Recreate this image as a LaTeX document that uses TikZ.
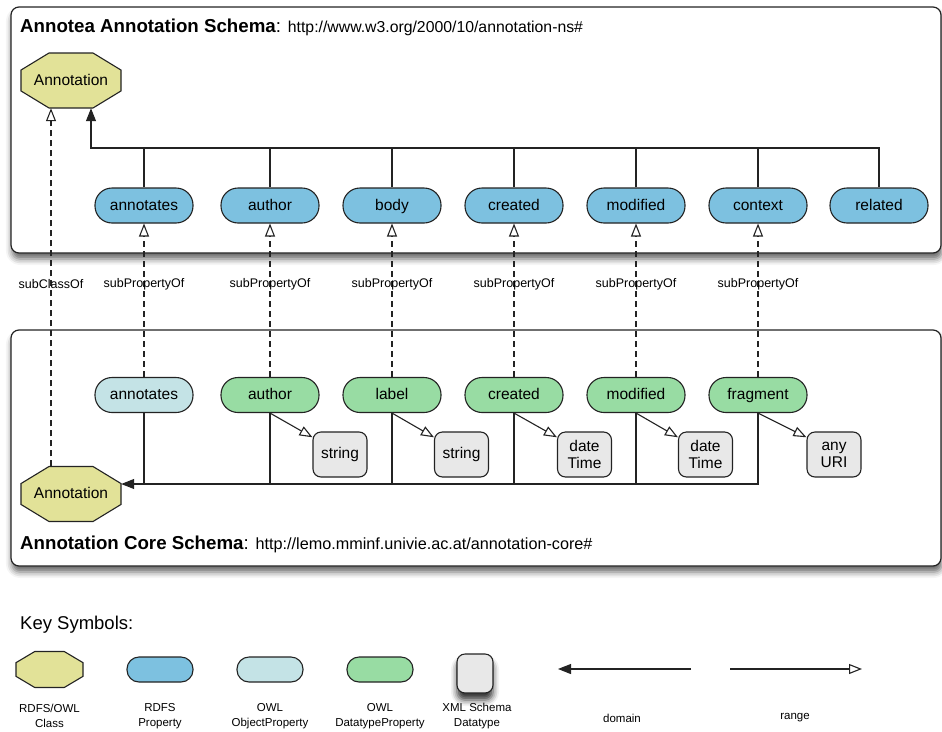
\documentclass[tikz,border=0pt]{standalone}
\usepackage{fontspec}
\setmainfont{Liberation Sans}
\usetikzlibrary{arrows.meta,shadows.blur}

\definecolor{classyellow}{RGB}{226,226,152}
\definecolor{rdfsblue}{RGB}{125,193,224}
\definecolor{objblue}{RGB}{196,227,230}
\definecolor{datagreen}{RGB}{152,220,163}
\definecolor{xsdgray}{RGB}{232,232,232}
\definecolor{edge}{RGB}{35,35,35}

\tikzset{
  schemabox/.style={draw=edge, line width=1.2pt, fill=white, rounded corners=8pt,
    blur shadow={shadow xshift=1pt, shadow yshift=-6pt, shadow blur radius=6pt, shadow opacity=60}},
  classshape/.style={draw=edge, line width=1.1pt, fill=classyellow},
  classtext/.style={inner sep=0pt, text height=12pt, text depth=3pt, font=\fontsize{15.5}{18}\selectfont},
  prop/.style={draw=edge, line width=1.1pt, rounded corners=17pt, minimum width=98pt,
    minimum height=35pt, inner sep=0pt, text height=12pt, text depth=3pt,
    font=\fontsize{15.5}{18}\selectfont},
  rdfsprop/.style={prop, fill=rdfsblue},
  owlobj/.style={prop, fill=objblue},
  owldata/.style={prop, fill=datagreen},
  keyprop/.style={minimum width=66pt, minimum height=25pt, rounded corners=12pt},
  xsdtype/.style={draw=edge, line width=1.1pt, fill=xsdgray, rounded corners=8pt,
    minimum width=54pt, minimum height=45pt, inner sep=0pt, align=center,
    font=\fontsize{15.5}{17}\selectfont},
  domainline/.style={draw=edge, line width=1.1pt, -{Triangle[length=13pt,width=10pt]}},
  rangeline/.style={draw=edge, line width=1.1pt, -{Triangle[open,length=13pt,width=10pt]}},
  subline/.style={rangeline, dash pattern=on 6pt off 4pt},
  rellabel/.style={font=\fontsize{12.5}{14}\selectfont, inner sep=0pt},
  keylabel/.style={font=\fontsize{11.5}{15}\selectfont, align=center, inner sep=0pt},
}

% octagon for an RDFS/OWL class: name, centre, text, half width, half height
\newcommand\owlclass[5]{%
  \draw[classshape, shift={(#2)}, xscale=#4, yscale=#5]
    (-0.44,-1) -- (0.44,-1) -- (1,-0.38) -- (1,0.38) -- (0.44,1) -- (-0.44,1)
    -- (-1,0.38) -- (-1,-0.38) -- cycle;
  \node[classtext, minimum width=2*#4pt, minimum height=2*#5pt] (#1) at (#2) {#3};}

\begin{document}
\begin{tikzpicture}[x=1pt, y=-1pt]
  \useasboundingbox (0,0) rectangle (942,731);

  % the two schemas
  \draw[schemabox] (11,7) rectangle (941,253);
  \draw[schemabox] (11,330) rectangle (941,566);
  \node[anchor=base west, inner sep=0pt] (toptitle) at (20,32)
    {\fontsize{18.7}{20}\selectfont\bfseries Annotea Annotation Schema\mdseries:
     \fontsize{15.8}{16}\selectfont http://www.w3.org/2000/10/annotation-ns\#};
  \node[anchor=base west, inner sep=0pt] (coretitle) at (20,549)
    {\fontsize{18.7}{20}\selectfont\bfseries Annotation Core Schema\mdseries:
     \fontsize{16.2}{16}\selectfont http://lemo.mminf.univie.ac.at/annotation-core\#};

  % Annotea
  \owlclass{topcls}{71,80.5}{Annotation}{50}{27.5}
  \node[rdfsprop] (tann) at (144,205.5) {annotates};
  \node[rdfsprop] (tauth) at (270,205.5) {author};
  \node[rdfsprop] (tbody) at (392,205.5) {body};
  \node[rdfsprop] (tcreated) at (514,205.5) {created};
  \node[rdfsprop] (tmod) at (636,205.5) {modified};
  \node[rdfsprop] (tctx) at (758,205.5) {context};
  \node[rdfsprop] (trel) at (879,205.5) {related};

  \coordinate (tbus) at (91,148);
  \draw[domainline] (trel.north) |- (tbus) -- (tbus |- topcls.south);
  \foreach \n in {tann,tauth,tbody,tcreated,tmod,tctx}
    \draw[domainline, -] (\n.north) -- (\n.north |- tbus);

  % Annotation Core
  \owlclass{corecls}{71,494}{Annotation}{50}{27.5}
  \node[owlobj] (cann) at (144,395) {annotates};
  \node[owldata] (cauth) at (270,395) {author};
  \node[owldata] (clabel) at (392,395) {label};
  \node[owldata] (ccreated) at (514,395) {created};
  \node[owldata] (cmod) at (636,395) {modified};
  \node[owldata] (cfrag) at (758,395) {fragment};

  \node[xsdtype] (dstr1) at (340,454.5) {string};
  \node[xsdtype] (dstr2) at (461.5,454.5) {string};
  \node[xsdtype] (ddt1) at (584.5,454.5) {date\\Time};
  \node[xsdtype] (ddt2) at (705.5,454.5) {date\\Time};
  \node[xsdtype] (duri) at (834,454.5) {any\\URI};

  \coordinate (cbus) at ([yshift=10pt]corecls.east);
  \draw[domainline] (cfrag.south) |- (cbus);
  \foreach \n in {cann,cauth,clabel,ccreated,cmod}
    \draw[domainline, -] (\n.south) -- (\n.south |- cbus);

  \draw[rangeline] (cauth.south) -- (dstr1.148);
  \draw[rangeline] (clabel.south) -- (dstr2.148);
  \draw[rangeline] (ccreated.south) -- (ddt1.148);
  \draw[rangeline] (cmod.south) -- (ddt2.148);
  \draw[rangeline] (cfrag.south) -- (duri.148);

  % between the schemas
  \draw[subline] ([xshift=-20pt]corecls.north) -- node[rellabel, pos=0.51] (lcls) {subClassOf}
    ([xshift=-20pt]topcls.south);
  \draw[subline] (cann.north) -- node[rellabel, pos=0.605] (l1) {subPropertyOf} (tann.south);
  \draw[subline] (cauth.north) -- node[rellabel, pos=0.605] (l2) {subPropertyOf} (tauth.south);
  \draw[subline] (clabel.north) -- node[rellabel, pos=0.605] (l3) {subPropertyOf} (tbody.south);
  \draw[subline] (ccreated.north) -- node[rellabel, pos=0.605] (l4) {subPropertyOf} (tcreated.south);
  \draw[subline] (cmod.north) -- node[rellabel, pos=0.605] (l5) {subPropertyOf} (tmod.south);
  \draw[subline] (cfrag.north) -- node[rellabel, pos=0.605] (l6) {subPropertyOf} (tctx.south);

  % key
  \node[anchor=base west, inner sep=0pt, font=\fontsize{18.5}{20}\selectfont] (keytitle) at (20,629) {Key Symbols:};
  \owlclass{keycls}{49.5,669.5}{}{33.5}{18}
  \node[rdfsprop, keyprop] (keyrdfs) at (160,669.5) {};
  \node[owlobj, keyprop] (keyobj) at (270,669.5) {};
  \node[owldata, keyprop] (keydata) at (380,669.5) {};
  \node[xsdtype, minimum width=36pt, minimum height=39pt,
    blur shadow={shadow xshift=0pt, shadow yshift=-7pt, shadow blur radius=6pt, shadow opacity=80}]
    (keyxsd) at (475,673.5) {};

  \node[keylabel] (kl1) at (49.5,716) {RDFS/OWL\\Class};
  \node[keylabel] (kl2) at (160,716) {RDFS\\Property};
  \node[keylabel] (kl3) at (270,716) {OWL\\ObjectProperty};
  \node[keylabel] (kl4) at (380,716) {OWL\\DatatypeProperty};
  \node[keylabel] (kl5) at (477,716) {XML Schema\\Datatype};

  \coordinate (dom0) at (691,669);
  \coordinate (dom1) at (558,669);
  \coordinate (ran0) at (730,669);
  \coordinate (ran1) at (862,669);
  \draw[domainline] (dom0) -- (dom1);
  \draw[rangeline] (ran0) -- (ran1);
  \node[keylabel] (kdom) at (622,718) {domain};
  \node[keylabel] (kran) at (795,718) {range};
\end{tikzpicture}
\end{document}
